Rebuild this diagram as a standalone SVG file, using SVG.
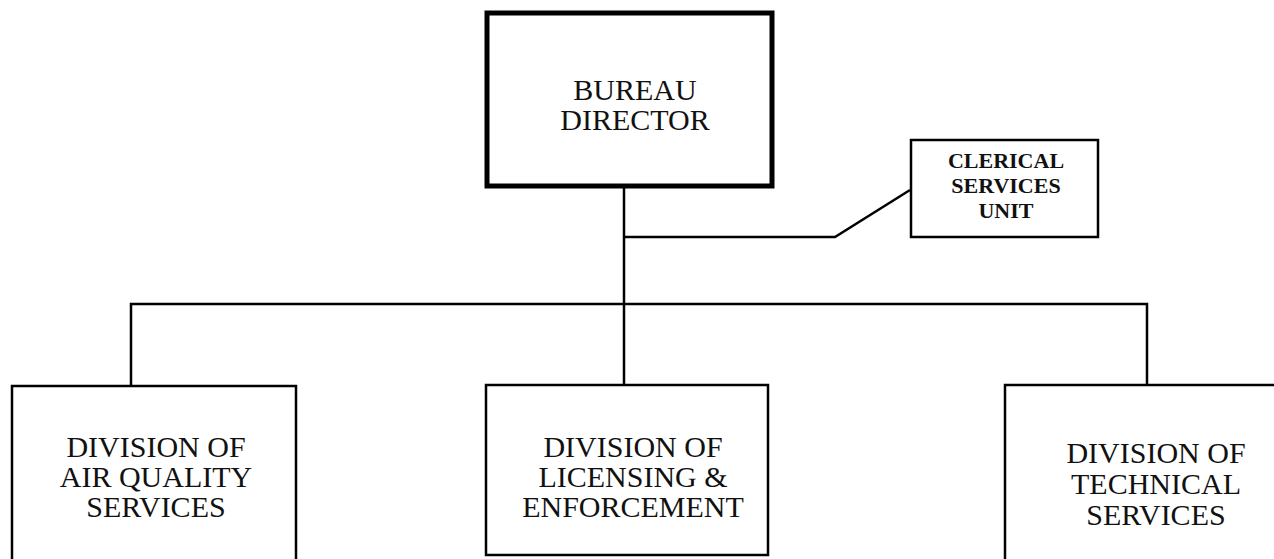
<svg xmlns="http://www.w3.org/2000/svg" width="1274" height="559" viewBox="0 0 1274 559">
  <style>
    .box { fill: #ffffff; stroke: #000000; stroke-width: 2.5; }
    .lead { fill: #ffffff; stroke: #000000; stroke-width: 5; }
    .wire { fill: none; stroke: #000000; stroke-width: 2.5; }
    .lbl { font-family: "Liberation Serif", "Times New Roman", serif; font-size: 30px; fill: #111111; text-anchor: middle; }
    .small { font-family: "Liberation Serif", "Times New Roman", serif; font-size: 22px; font-weight: bold; fill: #111111; text-anchor: middle; }
  </style>
  <rect width="1274" height="559" fill="#ffffff"/>

  <g id="connectors">
    <line class="wire" x1="624" y1="186" x2="624" y2="385" stroke-width="3"/>
    <polyline class="wire" points="624,237 835,237 910,190" stroke-width="2.2"/>
    <polyline class="wire" points="131,386 131,304 1147,304 1147,385"/>
  </g>

  <g id="bureau-director">
    <rect class="lead" x="487" y="13" width="285" height="173"/>
    <text class="lbl" x="635" y="100" font-size="30">BUREAU</text>
    <text class="lbl" x="635" y="130" font-size="30">DIRECTOR</text>
  </g>

  <g id="clerical-services-unit">
    <rect class="box" x="911" y="140" width="187" height="97"/>
    <text class="small" x="1006" y="168">CLERICAL</text>
    <text class="small" x="1006" y="193">SERVICES</text>
    <text class="small" x="1006" y="218">UNIT</text>
  </g>

  <g id="air-quality-services">
    <rect class="box" x="12" y="386" width="284" height="190"/>
    <text class="lbl" x="156" y="457">DIVISION OF</text>
    <text class="lbl" x="156" y="487">AIR QUALITY</text>
    <text class="lbl" x="156" y="517">SERVICES</text>
  </g>

  <g id="licensing-enforcement">
    <rect class="box" x="486" y="385" width="282" height="170"/>
    <text class="lbl" x="633" y="457">DIVISION OF</text>
    <text class="lbl" x="633" y="487">LICENSING &amp;</text>
    <text class="lbl" x="633" y="517">ENFORCEMENT</text>
  </g>

  <g id="technical-services">
    <rect class="box" x="1005" y="385" width="300" height="200"/>
    <text class="lbl" x="1156" y="463">DIVISION OF</text>
    <text class="lbl" x="1156" y="494">TECHNICAL</text>
    <text class="lbl" x="1156" y="525">SERVICES</text>
  </g>
</svg>
